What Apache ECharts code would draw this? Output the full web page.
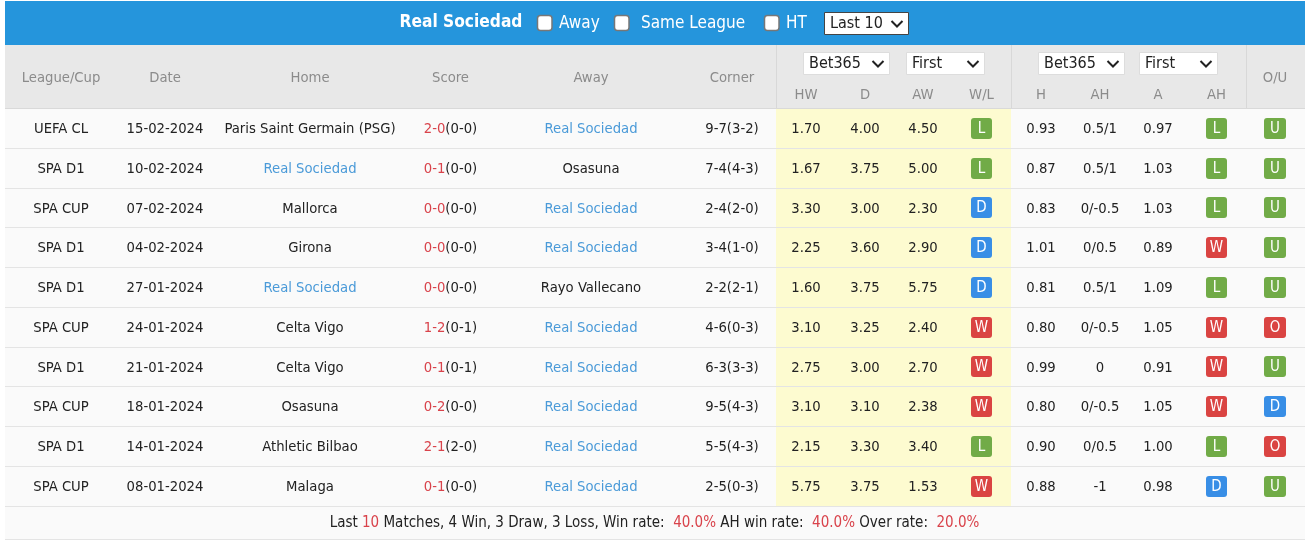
<!DOCTYPE html>
<html><head><meta charset="utf-8">
<script src="https://cdn.jsdelivr.net/npm/echarts@6/dist/echarts.min.js"></script>
<style>html,body{margin:0;padding:0;background:#fff}#c{width:1312px;height:540px}</style>
</head><body><div id="c"></div>
<script>
const FONT='"DejaVu Sans Condensed"';
const leagues=['UEFA CL','SPA D1','SPA CUP','SPA D1','SPA D1','SPA CUP','SPA D1','SPA CUP','SPA D1','SPA CUP'];
const dates=['15-02-2024','10-02-2024','07-02-2024','04-02-2024','27-01-2024','24-01-2024','21-01-2024','18-01-2024','14-01-2024','08-01-2024'];
const homes=['Paris Saint Germain (PSG)','Real Sociedad','Mallorca','Girona','Real Sociedad','Celta Vigo','Celta Vigo','Osasuna','Athletic Bilbao','Malaga'];
const scores=['2-0','0-1','0-0','0-0','0-0','1-2','0-1','0-2','2-1','0-1'];
const halves=['(0-0)','(0-0)','(0-0)','(0-0)','(0-0)','(0-1)','(0-1)','(0-0)','(2-0)','(0-0)'];
const aways=['Real Sociedad','Osasuna','Real Sociedad','Real Sociedad','Rayo Vallecano','Real Sociedad','Real Sociedad','Real Sociedad','Real Sociedad','Real Sociedad'];
const corners=['9-7(3-2)','7-4(4-3)','2-4(2-0)','3-4(1-0)','2-2(2-1)','4-6(0-3)','6-3(3-3)','9-5(4-3)','5-5(4-3)','2-5(0-3)'];
const hw=['1.70','1.67','3.30','2.25','1.60','3.10','2.75','3.10','2.15','5.75'];
const dr=['4.00','3.75','3.00','3.60','3.75','3.25','3.00','3.10','3.30','3.75'];
const aw=['4.50','5.00','2.30','2.90','5.75','2.40','2.70','2.38','3.40','1.53'];
const wl=['L','L','D','D','D','W','W','W','L','W'];
const ahH=['0.93','0.87','0.83','1.01','0.81','0.80','0.99','0.80','0.90','0.88'];
const ahLine=['0.5/1','0.5/1','0/-0.5','0/0.5','0.5/1','0/-0.5','0','0/-0.5','0/0.5','-1'];
const ahA=['0.97','1.03','1.03','0.89','1.09','1.05','0.91','1.05','1.00','0.98'];
const ahRes=['L','L','L','W','L','W','W','W','L','D'];
const ou=['U','U','U','U','U','O','U','D','O','U'];
const team='Real Sociedad';
const colHeads=['League/Cup','Date','Home','Score','Away','Corner','O/U'];
const subHeads=['HW','D','AW','W/L','H','AH','A','AH'];

const X={league:61,date:165,home:310,score:450.5,away:591,corner:732,hw:806,d:865,aw:923,wl:981.5,h:1041,ah:1100,a:1158,ahr:1216.5,ou:1275};
const TXT='#222',BLUE='#4a9ad8',RED='#d9434b',GREY='#8b8b8b';
const BADGE={L:'#71ab47',W:'#da4442',D:'#388ee6',U:'#71ab47',O:'#da4442'};
const rowIdx=dates.map((_,i)=>i);
const FS=14.7;

function renderRow(params,api){
  const i=api.value(0);
  const yc=api.coord([0,i])[1], h=api.size([0,1])[1];
  const t=yc-h/2;
  const kids=[];
  const line=Math.floor(t+h-0.5);
  const top=Math.floor(t-0.5)+1;
  kids.push({type:'rect',shape:{x:5,y:top,width:1300,height:line-top},style:{fill:'#fafafa'}});
  kids.push({type:'rect',shape:{x:776,y:top,width:235,height:line-top},style:{fill:'#fdfbd0'}});
  kids.push({type:'rect',shape:{x:5,y:line,width:1300,height:1},style:{fill:'#e4e4e4'}});
  const ty=yc+0.4;
  const txt=(x,s,fill)=>kids.push({type:'text',x:x,y:ty,style:{text:s,fill:fill||TXT,font:FS+'px '+FONT,textAlign:'center',textVerticalAlign:'middle'}});
  txt(X.league,leagues[i]);txt(X.date,dates[i]);
  txt(X.home,homes[i],homes[i]===team?BLUE:TXT);
  kids.push({type:'text',x:X.score,y:ty,style:{text:'{r|'+scores[i]+'}{k|'+halves[i]+'}',textAlign:'center',textVerticalAlign:'middle',
    rich:{r:{fill:RED,font:FS+'px '+FONT},k:{fill:TXT,font:FS+'px '+FONT}}}});
  txt(X.away,aways[i],aways[i]===team?BLUE:TXT);
  txt(X.corner,corners[i]);
  txt(X.hw,hw[i]);txt(X.d,dr[i]);txt(X.aw,aw[i]);
  txt(X.h,ahH[i]);txt(X.ah,ahLine[i]);txt(X.a,ahA[i]);
  const bt=Math.floor(yc-10.5);
  [[X.wl,wl[i],21],[X.ahr,ahRes[i],21],[X.ou,ou[i],22]].forEach(([x,v,bw])=>{
    kids.push({type:'rect',shape:{x:x-bw/2,y:bt,width:bw,height:21,r:3},style:{fill:BADGE[v]}});
    kids.push({type:'text',x:x,y:bt+11,style:{text:v,fill:'#fff',font:'15px '+FONT,textAlign:'center',textVerticalAlign:'middle'}});
  });
  return {type:'group',children:kids};
}

const g=[];
const rect=(x,y,w,h,fill,extra)=>g.push(Object.assign({type:'rect',shape:{x,y,width:w,height:h,r:(extra&&extra.r)||0},style:Object.assign({fill},extra&&extra.style)},{silent:true}));
const text=(x,y,s,fill,size,align,weight)=>g.push({type:'text',x,y,style:{text:s,fill,font:(weight?weight+' ':'')+size+'px '+FONT,textAlign:align||'center',textVerticalAlign:'middle'},silent:true});
const chevron=(x,y)=>g.push({type:'polyline',shape:{points:[[x-5.5,y-2.5],[x,y+3],[x+5.5,y-2.5]]},style:{stroke:'#222',lineWidth:2,fill:null},silent:true});
const select=(x,y,w,h,s,b)=>{rect(x+.5,y+.5,w-1,h-1,'#fff',{style:{stroke:b,lineWidth:1}});text(x+6,y+h/2+.5,s,'#222',16,'left');chevron(x+w-12,y+h/2);};
const check=(x,y)=>rect(x+.5,y+.5,14.5,15,'#fff',{r:3,style:{stroke:'#777',lineWidth:1.5}});

rect(5,1,1300,44,'#2595dc');
text(461,23,'Real Sociedad','#fff',17.2,'center','bold');
check(537,15);text(559,23.5,'Away','#fff',17,'left');
check(614,15);text(641,23.5,'Same League','#fff',17,'left');
check(764,15);text(786,23.5,'HT','#fff',17,'left');
select(824,12,85,23,'Last 10','#444');
rect(5,45,1300,63,'#e8e8e8');
rect(5,108,1300,1,'#d9d9d9');
[[776],[1011],[1246]].forEach(([x])=>rect(x,45,1,63,'#d8d8d8'));
[X.league,X.date,X.home,X.score,X.away,X.corner].forEach((x,i)=>text(x,78.5,colHeads[i],GREY,FS));
text(X.ou,78.5,colHeads[6],GREY,FS);
[X.hw,X.d,X.aw,X.wl,X.h,X.ah,X.a,X.ahr].forEach((x,i)=>text(x,95,subHeads[i],GREY,FS));
select(803,52,87,23,'Bet365','#ddd');select(906,52,79,23,'First','#ddd');
select(1038,52,87,23,'Bet365','#ddd');select(1139,52,79,23,'First','#ddd');
rect(5,507,1300,32,'#fafafa');
rect(5,539,1300,1,'#e4e4e4');
g.push({type:'text',x:654.5,y:523.5,silent:true,style:{
  text:'{k|Last }{r|10}{k| Matches, 4 Win, 3 Draw, 3 Loss, Win rate:  }{r|40.0%}{k| AH win rate:  }{r|40.0%}{k| Over rate:  }{r|20.0%}',
  textAlign:'center',textVerticalAlign:'middle',
  rich:{k:{fill:TXT,font:'15px '+FONT},r:{fill:RED,font:'15px '+FONT}}}});

const chart=echarts.init(document.getElementById('c'));
chart.setOption({
  animation:false,
  grid:{left:0,right:0,top:109,height:397.5},
  xAxis:{type:'value',min:0,max:1312,show:false},
  yAxis:{type:'category',inverse:true,data:dates,show:false},
  graphic:{elements:g},
  series:[{type:'custom',coordinateSystem:'cartesian2d',encode:{x:-1,y:0},data:rowIdx.map(i=>[i]),renderItem:renderRow,silent:true,clip:false}]
});
</script></body></html>
